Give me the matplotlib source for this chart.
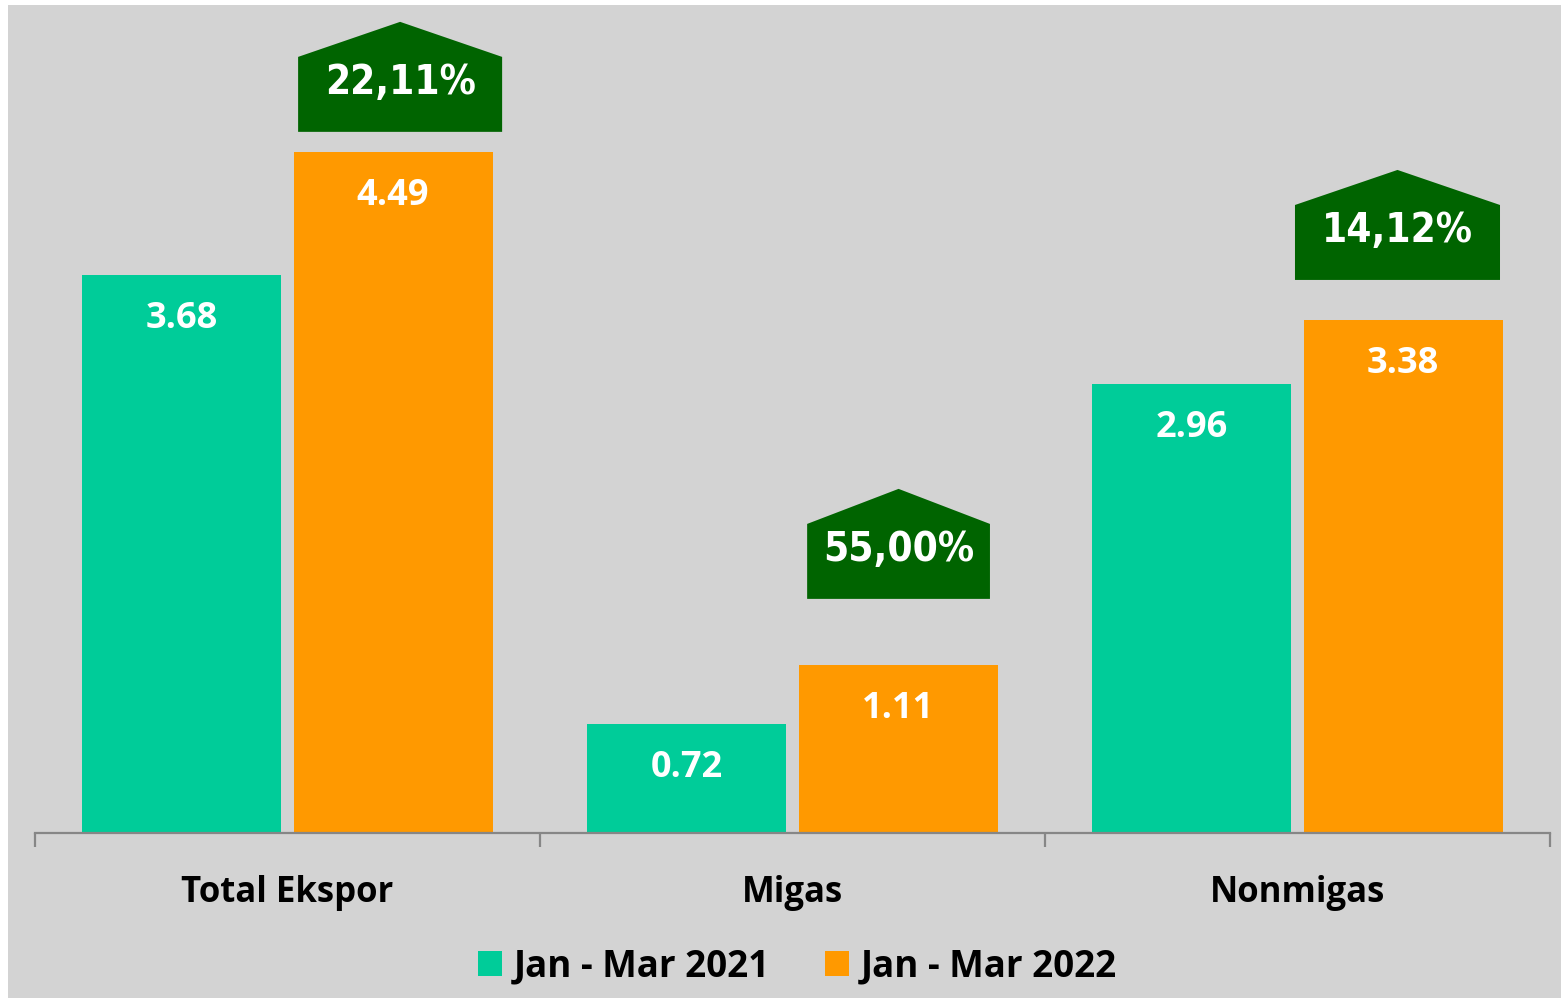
import matplotlib
matplotlib.use('Agg')
import matplotlib.pyplot as plt
from matplotlib import font_manager
from matplotlib.patches import Polygon, Rectangle, Patch

# Data
categories = ['Total Ekspor', 'Migas', 'Nonmigas']
series_names = ['Jan - Mar 2021', 'Jan - Mar 2022']
values_2021 = [3.68, 0.72, 2.96]
values_2022 = [4.49, 1.11, 3.38]
growth_labels = ['22,11%', '55,00%', '14,12%']

# Colours
teal = '#00CC99'
orange = '#FF9900'
badge_green = '#006400'
bg_grey = '#D3D3D3'

plt.rcParams['font.family'] = ['Open Sans', 'DejaVu Sans']


# a narrow bold face for the percentages: narrowest one that is installed
def narrow_rank(f):
    n = (f.name + ' ' + f.fname).lower()
    if f.weight not in ('bold', 700) or 'italic' in n:
        return None
    if 'semicondensed' in n or 'semi-condensed' in n or 'semi condensed' in n \
            or f.stretch == 'semi-condensed':
        return 2
    if 'narrow' in n or 'condensed' in n or f.stretch == 'condensed':
        return 1
    return None


cands = [(narrow_rank(f), f.fname) for f in font_manager.fontManager.ttflist]
cands = sorted(c for c in cands if c[0] is not None)
if cands:
    badge_font = font_manager.FontProperties(fname=cands[0][1], size=29)
else:
    badge_font = font_manager.FontProperties(family=['Roboto', 'DejaVu Sans'],
                                             weight='bold', size=29)

W, H = 1561, 998
fig = plt.figure(figsize=(W / 100, H / 100), dpi=100)
fig.patch.set_facecolor('white')
# grey panel behind the chart
fig.patches.append(Rectangle((8 / W, 0.5 / H), (W - 8) / W, (H - 5.5) / H,
                             transform=fig.transFigure, facecolor=bg_grey,
                             edgecolor='none', zorder=-10))

ax = fig.add_axes([35 / W, (H - 833) / H, (1550 - 35) / W, 833 / H])
ax.set_facecolor('none')

x = list(range(len(categories)))
bar_w = 0.394
off = 0.209
ax.bar([i - off for i in x], values_2021, width=bar_w, color=teal, zorder=2)
ax.bar([i + off for i in x], values_2022, width=bar_w, color=orange, zorder=2)

ax.set_xlim(-0.5, 2.5)
ax.set_ylim(0, 5.49)

# value labels inside bars
lab_drop = 0.29
for i in x:
    ax.text(i - off, values_2021[i] - lab_drop, f'{values_2021[i]:.2f}',
            ha='center', va='center', color='white', fontsize=26,
            fontweight='bold', zorder=3)
    ax.text(i + off, values_2022[i] - lab_drop, f'{values_2022[i]:.2f}',
            ha='center', va='center', color='white', fontsize=26,
            fontweight='bold', zorder=3)

# growth badges (house shape)
badge_x = [0.223, 1.210, 2.198]
badge_w = [0.404, 0.362, 0.406]
badge_bottom = [4.621, 1.543, 3.645]
rect_h = 0.494
peak_h = 0.231
for i in x:
    cx, hw, b = badge_x[i], badge_w[i] / 2, badge_bottom[i]
    pts = [(cx - hw, b), (cx + hw, b), (cx + hw, b + rect_h),
           (cx, b + rect_h + peak_h), (cx - hw, b + rect_h)]
    ax.add_patch(Polygon(pts, closed=True, facecolor=badge_green,
                         edgecolor='none', zorder=3))
    ax.text(cx, b + 0.32, growth_labels[i], ha='center', va='center',
            color='white', fontproperties=badge_font, zorder=4)

# axes styling
for s in ['top', 'right', 'left']:
    ax.spines[s].set_visible(False)
ax.spines['bottom'].set_color('#868686')
ax.spines['bottom'].set_linewidth(1.6)
ax.set_yticks([])
ax.set_xticks(x)
ax.set_xticklabels(categories, fontsize=25, fontweight='bold')
ax.tick_params(axis='x', which='major', length=0, pad=30)
ax.set_xticks([-0.5, 0.5, 1.5, 2.5], minor=True)
ax.tick_params(axis='x', which='minor', length=10, width=1.6,
               color='#868686', direction='out')

handles = [Patch(facecolor=teal, label=series_names[0]),
           Patch(facecolor=orange, label=series_names[1])]
fig.legend(handles=handles, loc='center', bbox_to_anchor=(797 / W, (H - 966) / H),
           ncol=2, frameon=False, prop={'size': 26.5, 'weight': 'bold'},
           handlelength=0.67, handleheight=0.67, handletextpad=0.3,
           columnspacing=1.5)

fig.savefig('out.png', dpi=100, facecolor='white')
